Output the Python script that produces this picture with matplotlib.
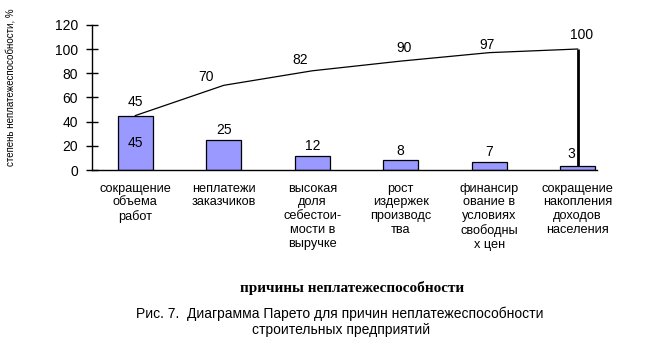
import matplotlib
matplotlib.use("Agg")
import matplotlib.pyplot as plt
import numpy as np

plt.rcParams['font.family'] = ['Liberation Sans', 'DejaVu Sans']

categories = [
    "сокращение\nобъема\nработ",
    "неплатежи\nзаказчиков",
    "высокая\nдоля\nсебестои-\nмости в\nвыручке",
    "рост\nиздержек\nпроизводс\nтва",
    "финансир\nование в\nусловиях\nсвободны\nх цен",
    "сокращение\nнакопления\nдоходов\nнаселения",
]
shares = [45, 25, 12, 8, 7, 3]
cumulative = [45, 70, 82, 90, 97, 100]
y_ticks = [0, 20, 40, 60, 80, 100, 120]

# label nudges in pixels (dx, dy above the anchor point)
cum_label_offsets = [(0, 6.5), (-18, 1), (-12, 4), (3, 6), (-2, 1), (4, 7)]
bar_label_offsets = [(0, 0), (0, 2.5), (0, 2.5), (0, 2.5), (0, 2.5), (-6, 5)]

PX = 72 / 100  # points per pixel at 100 dpi

fig = plt.figure(figsize=(6.5, 3.47), dpi=100)
ax = fig.add_axes([0.1415, 0.510, 0.918 - 0.1415, 0.9285 - 0.510])

x = np.arange(len(categories))
ax.bar(x, shares, width=0.4, color="#9999FF", edgecolor="black", linewidth=0.9, zorder=2)

# cumulative curve and its closing drop at the last category
ax.plot(x, cumulative, color="black", linewidth=0.9, zorder=3)
ax.vlines(x[-1], shares[-1], cumulative[-1], color="black", linewidth=2, zorder=3)

# bar value labels: first inside the bar, others on top
for i, v in enumerate(shares):
    if i == 0:
        ax.text(x[i], v / 2, str(v), ha="center", va="center", fontsize=10)
    else:
        dx, dy = bar_label_offsets[i]
        ax.annotate(str(v), (x[i], v), xytext=(dx * PX, dy * PX), textcoords="offset points",
                    ha="center", va="bottom", fontsize=10)

for i, v in enumerate(cumulative):
    dx, dy = cum_label_offsets[i]
    ax.annotate(str(v), (x[i], v), xytext=(dx * PX, dy * PX), textcoords="offset points",
                ha="center", va="bottom", fontsize=10)

ax.set_xlim(-0.49, 5.215)
ax.set_ylim(0, 120)
ax.set_yticks(y_ticks)
ax.tick_params(axis="y", direction="inout", length=8, width=1, labelsize=10, pad=6)
ax.set_xticks(x)
ax.set_xticklabels(categories, fontsize=9.2, linespacing=1.2)
ax.tick_params(axis="x", length=0, pad=9)
for s in ("top", "right"):
    ax.spines[s].set_visible(False)
ax.spines["left"].set_linewidth(1)
ax.spines["bottom"].set_linewidth(1)

fig.text(0.016, 0.748, "степень неплатежеспособности, %", rotation=90,
         ha="center", va="center", fontsize=7)
fig.text(0.541, 0.169, "причины неплатежеспособности", ha="center", va="center",
         fontsize=11, family=["Liberation Serif", "DejaVu Serif"], fontweight="bold")
fig.text(0.523, 0.097, "Рис. 7.  Диаграмма Парето для причин неплатежеспособности",
         ha="center", va="center", fontsize=10)
fig.text(0.524, 0.049, "строительных предприятий", ha="center", va="center", fontsize=10)

fig.savefig("out.png", dpi=100)
